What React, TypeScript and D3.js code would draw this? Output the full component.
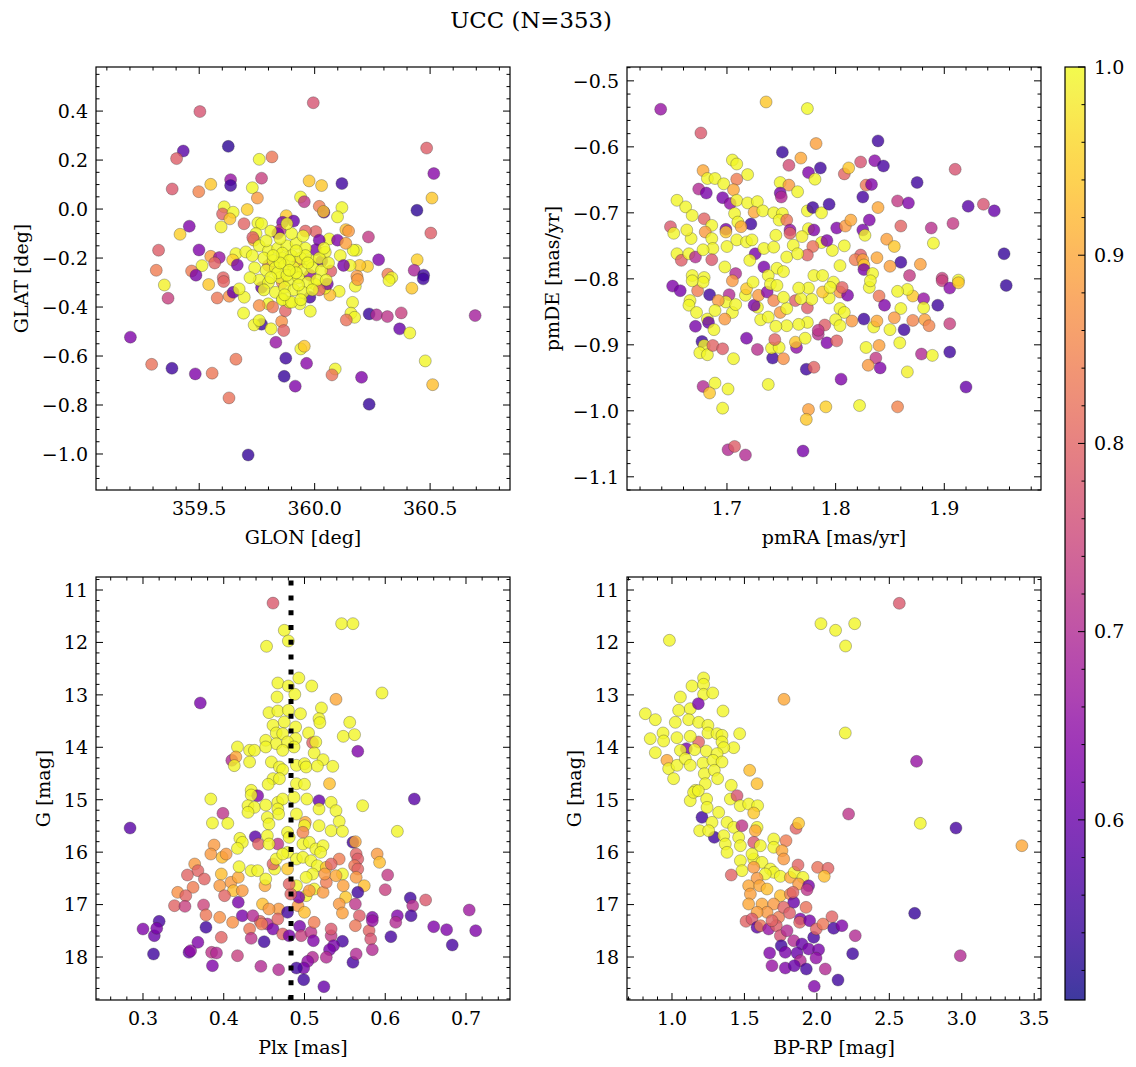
import React from 'react';
import * as d3 from 'd3';

type Pt = [number, number, number];

const TITLE = 'UCC (N=353)';
const PROB_DOMAIN: [number, number] = [0.5043, 1.0];
const PROB_TICKS = [0.6, 0.7, 0.8, 0.9, 1.0];
const PLX_LINE = 0.4833;

// GLON [deg], GLAT [deg], probability
const posPoints: Pt[] = [
[359.994,0.434,0.77],[359.503,0.398,0.77],[359.431,0.237,0.58],[359.402,0.206,0.79],[359.626,0.256,0.53],[359.760,0.203,0.998],[359.815,0.213,0.83],[360.485,0.249,0.79],[360.516,0.145,0.64],[360.508,0.045,0.94],[360.443,-0.005,0.53],[360.503,-0.098,0.79],[359.383,0.082,0.78],[359.498,0.071,0.85],[359.550,0.101,0.94],[359.636,0.120,0.66],[359.636,0.096,0.55],[359.770,0.126,0.74],[359.730,0.087,0.998],[359.752,0.045,0.88],[359.976,0.115,0.94],[360.030,0.096,0.94],[360.118,0.104,0.55],[359.939,0.049,0.995],[359.955,0.030,0.72],[360.020,0.011,0.84],[360.040,-0.013,0.58],[360.038,-0.010,0.94],[360.118,0.006,0.998],[360.099,-0.032,0.998],[359.457,-0.070,0.63],[359.417,-0.103,0.95],[359.324,-0.168,0.79],[359.314,-0.250,0.84],[359.499,-0.167,0.63],[359.608,0.009,0.995],[359.601,-0.020,0.80],[359.647,-0.013,0.998],[359.633,-0.040,0.94],[359.708,-0.002,0.95],[359.595,-0.073,0.99],[359.694,-0.060,0.80],[359.877,-0.027,0.94],[359.861,-0.054,0.62],[359.909,-0.049,0.60],[359.850,-0.087,0.72],[359.754,-0.057,0.998],[359.770,-0.060,0.998],[359.746,-0.100,0.998],[360.005,-0.092,0.80],[360.063,-0.122,0.998],[360.135,-0.084,0.93],[360.147,-0.090,0.88],[360.233,-0.114,0.73],[360.277,-0.207,0.63],[360.180,-0.168,0.998],[360.167,-0.168,0.998],[360.099,-0.127,0.63],[360.020,-0.127,0.62],[360.111,-0.190,0.995],[360.135,-0.140,0.89],[360.005,-0.166,0.62],[360.031,-0.212,0.60],[360.046,-0.176,0.995],[360.229,-0.234,0.95],[360.195,-0.230,0.94],[360.153,-0.230,0.995],[360.125,-0.230,0.62],[360.444,-0.207,0.95],[360.431,-0.250,0.69],[360.472,-0.270,0.55],[360.317,-0.266,0.84],[360.334,-0.280,0.995],[360.070,-0.253,0.79],[360.183,-0.274,0.88],[359.550,-0.193,0.89],[359.587,-0.198,0.66],[359.567,-0.220,0.80],[359.512,-0.231,0.995],[359.467,-0.253,0.84],[359.486,-0.270,0.62],[359.604,-0.280,0.80],[359.659,-0.182,0.995],[359.645,-0.208,0.95],[359.665,-0.228,0.62],[359.702,-0.175,0.995],[359.737,-0.127,0.93],[359.732,-0.116,0.79],
[359.349,-0.310,0.99],[359.365,-0.364,0.74],[359.202,-0.523,0.63],[359.294,-0.634,0.82],[359.382,-0.650,0.55],[359.483,-0.673,0.63],[359.556,-0.670,0.83],[359.659,-0.613,0.83],[359.629,-0.771,0.82],[359.541,-0.308,0.94],[359.606,-0.296,0.80],[359.578,-0.363,0.83],[359.630,-0.356,0.87],[359.647,-0.340,0.60],[359.692,-0.425,0.998],[359.770,-0.470,0.55],[359.738,-0.473,0.995],[359.760,-0.455,0.998],[359.811,-0.489,0.995],[359.857,-0.459,0.87],[359.866,-0.496,0.80],[359.873,-0.415,0.80],[359.832,-0.544,0.66],[359.875,-0.609,0.55],[359.868,-0.683,0.54],[359.916,-0.723,0.63],[359.965,-0.630,0.64],[359.940,-0.571,0.995],[359.955,-0.560,0.94],[359.712,-1.004,0.54],[359.981,-0.417,0.998],[359.979,-0.360,0.56],[359.936,-0.387,0.998],[360.106,-0.336,0.995],[360.066,-0.351,0.93],[360.044,-0.323,0.998],[360.055,-0.306,0.62],[360.164,-0.381,0.995],[360.176,-0.315,0.995],[360.186,-0.288,0.88],[360.157,-0.425,0.995],[360.173,-0.442,0.995],[360.137,-0.453,0.82],[360.236,-0.428,0.54],[360.268,-0.432,0.70],[360.315,-0.439,0.72],[360.375,-0.424,0.74],[360.368,-0.489,0.60],[360.412,-0.506,0.995],[360.695,-0.435,0.68],[360.479,-0.620,0.995],[360.511,-0.717,0.93],[360.089,-0.653,0.995],[360.075,-0.677,0.82],[360.203,-0.687,0.63],[360.236,-0.797,0.54],[360.322,-0.292,0.995],[360.421,-0.323,0.94],[360.470,-0.285,0.55],[359.799,-0.387,0.998],[359.760,-0.394,0.87],[359.818,-0.400,0.83],[359.861,-0.367,0.998],[359.890,-0.380,0.998],[359.695,-0.360,0.995],[359.673,-0.326,0.998],[360.000,-0.306,0.998],
[359.86,-0.30,0.85],[359.80,-0.23,0.82],[359.93,-0.22,0.88],[359.77,-0.32,0.60],[359.98,-0.27,0.65],[360.02,-0.33,0.80],[359.96,-0.09,0.80],[359.84,-0.10,0.62],
[359.76,-0.15,0.998],[359.80,-0.17,0.998],[359.84,-0.16,0.998],[359.88,-0.15,0.998],[359.92,-0.14,0.998],[359.96,-0.16,0.998],[359.78,-0.20,0.998],[359.82,-0.21,0.998],[359.86,-0.20,0.998],[359.90,-0.19,0.998],[359.94,-0.20,0.998],[359.98,-0.21,0.998],[360.02,-0.20,0.998],[359.74,-0.24,0.998],[359.79,-0.25,0.998],[359.83,-0.24,0.998],[359.87,-0.23,0.998],[359.91,-0.24,0.998],[359.95,-0.25,0.998],[359.99,-0.24,0.998],[360.03,-0.25,0.998],[359.76,-0.29,0.998],[359.80,-0.30,0.998],[359.85,-0.28,0.998],[359.89,-0.29,0.998],[359.93,-0.28,0.998],[359.97,-0.30,0.998],[360.01,-0.29,0.998],[359.78,-0.33,0.998],[359.83,-0.34,0.998],[359.87,-0.32,0.998],[359.91,-0.33,0.998],[359.95,-0.34,0.998],[359.99,-0.33,0.998],[359.86,-0.37,0.998],[359.90,-0.38,0.998],[359.94,-0.37,0.998],[359.85,-0.12,0.998],[359.90,-0.10,0.998],[359.95,-0.11,0.998],[359.81,-0.09,0.998],[359.88,-0.06,0.998],[359.73,-0.19,0.998],[359.72,-0.28,0.998],[360.04,-0.16,0.998],[360.06,-0.22,0.998],[360.05,-0.29,0.998],[359.84,-0.26,0.998],[359.88,-0.27,0.998],[359.92,-0.26,0.998],[359.86,-0.18,0.998],[359.96,-0.19,0.998],[359.81,-0.28,0.998],[359.89,-0.21,0.998],
[359.85,-0.22,0.998],[359.89,-0.25,0.998],[359.93,-0.31,0.998],[359.82,-0.19,0.998],[359.97,-0.22,0.998],[359.87,-0.35,0.998],[359.79,-0.13,0.998],[359.92,-0.17,0.998]
];

// pmRA [mas/yr], pmDE [mas/yr], probability
const pmPoints: Pt[] = [
[1.639,-0.543,0.66],[1.736,-0.532,0.94],[1.774,-0.542,0.998],[1.676,-0.579,0.78],[1.782,-0.595,0.89],[1.839,-0.591,0.55],[1.751,-0.608,0.54],[1.768,-0.617,0.90],[1.757,-0.628,0.76],[1.786,-0.632,0.55],[1.775,-0.639,0.63],[1.781,-0.649,0.995],[1.705,-0.620,0.995],[1.709,-0.626,0.995],[1.678,-0.636,0.90],[1.682,-0.648,0.995],[1.689,-0.648,0.995],[1.719,-0.642,0.995],[1.709,-0.649,0.84],[1.697,-0.656,0.995],[1.674,-0.664,0.70],[1.681,-0.670,0.62],[1.706,-0.665,0.90],[1.749,-0.654,0.995],[1.757,-0.658,0.88],[1.749,-0.670,0.62],[1.750,-0.676,0.70],[1.765,-0.668,0.995],[1.696,-0.677,0.62],[1.703,-0.686,0.65],[1.709,-0.681,0.99],[1.654,-0.681,0.995],[1.662,-0.691,0.995],[1.668,-0.704,0.995],[1.719,-0.685,0.995],[1.728,-0.683,0.995],[1.725,-0.699,0.90],[1.733,-0.697,0.995],[1.707,-0.701,0.995],[1.743,-0.700,0.995],[1.751,-0.701,0.995],[1.748,-0.711,0.995],[1.755,-0.711,0.83],[1.722,-0.717,0.55],[1.710,-0.714,0.995],[1.713,-0.721,0.90],[1.648,-0.721,0.78],[1.651,-0.731,0.995],[1.667,-0.739,0.995],[1.663,-0.726,0.99],[1.679,-0.709,0.80],[1.686,-0.719,0.995],[1.680,-0.729,0.88],[1.686,-0.739,0.995],[1.687,-0.754,0.995],[1.699,-0.725,0.62],[1.699,-0.729,0.94],[1.745,-0.734,0.995],[1.758,-0.726,0.65],[1.758,-0.731,0.80],[1.774,-0.697,0.995],[1.779,-0.692,0.55],[1.787,-0.700,0.995],[1.794,-0.687,0.55],[1.775,-0.724,0.995],[1.780,-0.726,0.63],[1.769,-0.736,0.99],[1.801,-0.723,0.63],[1.809,-0.720,0.88],[1.814,-0.711,0.90],[1.825,-0.676,0.56],[1.828,-0.658,0.83],[1.833,-0.657,0.63],[1.808,-0.641,0.80],[1.812,-0.632,0.94],[1.823,-0.623,0.77],[1.836,-0.621,0.64],[1.844,-0.629,0.56],[1.831,-0.711,0.63],[1.825,-0.726,0.62],[1.827,-0.734,0.995],[1.839,-0.692,0.90],[1.847,-0.740,0.89],[1.854,-0.751,0.94],[1.860,-0.720,0.80],[1.857,-0.682,0.73],[1.867,-0.685,0.63],[1.875,-0.654,0.55],[1.888,-0.723,0.71],[1.890,-0.746,0.995],[1.908,-0.716,0.73],[1.910,-0.634,0.77],[1.922,-0.690,0.58],[1.936,-0.687,0.77],[1.946,-0.697,0.60],[1.955,-0.762,0.54],[1.860,-0.775,0.55],[1.878,-0.778,0.89],[1.868,-0.795,0.73],[1.898,-0.799,0.74],[1.913,-0.802,0.995],[1.838,-0.768,0.90],[1.850,-0.781,0.89],[1.823,-0.764,0.79],[1.818,-0.771,0.84],[1.825,-0.771,0.89],[1.826,-0.779,0.94],[1.826,-0.786,0.62],[1.834,-0.792,0.995],[1.804,-0.780,0.995],[1.797,-0.757,0.995],[1.808,-0.750,0.995],[1.787,-0.745,0.995],[1.779,-0.751,0.82],[1.774,-0.764,0.80],[1.792,-0.742,0.63],[1.780,-0.795,0.995],[1.788,-0.795,0.995],[1.654,-0.762,0.995],[1.658,-0.772,0.79],[1.665,-0.762,0.995],[1.671,-0.767,0.70],[1.678,-0.756,0.995],[1.686,-0.771,0.78],[1.698,-0.782,0.995],[1.700,-0.751,0.995],[1.709,-0.741,0.995],[1.718,-0.744,0.995],[1.723,-0.741,0.995],[1.726,-0.762,0.62],[1.721,-0.772,0.995],[1.734,-0.754,0.995],[1.734,-0.782,0.62],[1.743,-0.752,0.995],[1.746,-0.784,0.995],[1.755,-0.767,0.995],[1.761,-0.749,0.995],[1.765,-0.762,0.995],[1.752,-0.789,0.995],[1.708,-0.792,0.70],[1.668,-0.795,0.995],[1.679,-0.798,0.995],[1.738,-0.795,0.995],
[1.650,-0.811,0.63],[1.657,-0.818,0.62],[1.957,-0.810,0.54],[1.666,-0.833,0.995],[1.665,-0.840,0.995],[1.672,-0.851,0.995],[1.684,-0.824,0.55],[1.673,-0.818,0.84],[1.671,-0.872,0.62],[1.682,-0.861,0.995],[1.683,-0.866,0.60],[1.688,-0.877,0.995],[1.677,-0.895,0.55],[1.679,-0.901,0.995],[1.675,-0.912,0.995],[1.682,-0.915,0.995],[1.687,-0.901,0.80],[1.696,-0.906,0.79],[1.706,-0.921,0.995],[1.678,-0.963,0.70],[1.689,-0.958,0.995],[1.684,-0.973,0.94],[1.701,-0.967,0.995],[1.696,-0.996,0.995],[1.701,-1.059,0.70],[1.707,-1.054,0.79],[1.717,-1.067,0.70],[1.770,-1.061,0.62],[1.775,-0.998,0.89],[1.773,-1.013,0.94],[1.791,-0.994,0.95],[1.822,-0.992,0.995],[1.857,-0.994,0.85],[1.738,-0.960,0.995],[1.805,-0.952,0.63],[1.773,-0.937,0.55],[1.780,-0.934,0.80],[1.742,-0.920,0.55],[1.752,-0.921,0.87],[1.741,-0.905,0.995],[1.748,-0.904,0.995],[1.718,-0.890,0.62],[1.728,-0.907,0.71],[1.744,-0.892,0.80],[1.764,-0.904,0.65],[1.763,-0.896,0.94],[1.772,-0.890,0.995],[1.784,-0.884,0.71],[1.792,-0.897,0.63],[1.801,-0.894,0.80],[1.790,-0.870,0.79],[1.784,-0.878,0.72],[1.774,-0.866,0.995],[1.766,-0.869,0.995],[1.755,-0.871,0.995],[1.745,-0.872,0.995],[1.731,-0.862,0.995],[1.738,-0.858,0.995],[1.749,-0.851,0.88],[1.755,-0.845,0.995],[1.774,-0.844,0.79],[1.763,-0.833,0.79],[1.778,-0.831,0.995],[1.768,-0.830,0.995],[1.775,-0.814,0.995],[1.766,-0.814,0.995],[1.794,-0.829,0.995],[1.788,-0.820,0.94],[1.804,-0.820,0.88],[1.811,-0.825,0.63],[1.804,-0.845,0.995],[1.808,-0.851,0.995],[1.800,-0.862,0.995],[1.804,-0.871,0.995],[1.815,-0.864,0.88],[1.826,-0.861,0.55],[1.835,-0.873,0.995],[1.838,-0.864,0.90],[1.850,-0.877,0.995],[1.840,-0.826,0.83],[1.845,-0.840,0.63],[1.831,-0.813,0.995],[1.832,-0.803,0.995],[1.860,-0.845,0.995],[1.859,-0.897,0.995],[1.854,-0.859,0.88],[1.863,-0.877,0.55],[1.871,-0.863,0.85],[1.871,-0.826,0.94],[1.866,-0.816,0.995],[1.857,-0.819,0.995],[1.881,-0.830,0.66],[1.881,-0.844,0.995],[1.882,-0.862,0.89],[1.886,-0.871,0.85],[1.894,-0.840,0.55],[1.905,-0.868,0.74],[1.898,-0.803,0.74],[1.905,-0.814,0.64],[1.913,-0.806,0.94],[1.905,-0.911,0.55],[1.879,-0.914,0.70],[1.889,-0.916,0.995],[1.866,-0.941,0.99],[1.920,-0.964,0.60],[1.840,-0.901,0.89],[1.828,-0.904,0.995],[1.837,-0.920,0.73],[1.830,-0.931,0.88],[1.841,-0.935,0.63],[1.702,-0.824,0.70],[1.699,-0.835,0.995],[1.705,-0.851,0.995],[1.708,-0.839,0.995],[1.692,-0.833,0.88],[1.689,-0.848,0.995],[1.698,-0.861,0.88],[1.717,-0.825,0.995],[1.718,-0.815,0.94],[1.728,-0.843,0.995],[1.725,-0.840,0.62],[1.729,-0.825,0.88],[1.737,-0.820,0.64],[1.743,-0.833,0.85],[1.752,-0.828,0.995],[1.740,-0.808,0.995],[1.746,-0.810,0.995],[1.724,-0.805,0.995],[1.678,-0.805,0.995],[1.668,-0.803,0.995],[1.705,-0.803,0.88],[1.798,-0.805,0.995],[1.806,-0.813,0.80],[1.795,-0.813,0.995]
];

// Plx [mas], G [mag], probability
const plxPoints: Pt[] = [
[0.461,11.25,0.78],[0.546,11.642,0.995],[0.560,11.642,0.995],[0.475,11.769,0.995],[0.480,11.973,0.995],[0.453,12.074,0.995],[0.493,12.678,0.995],[0.467,12.774,0.995],[0.480,12.831,0.995],[0.509,12.831,0.995],[0.466,13.041,0.995],[0.488,12.990,0.995],[0.596,12.964,0.995],[0.371,13.155,0.62],[0.539,13.085,0.90],[0.521,13.250,0.995],[0.456,13.339,0.995],[0.467,13.308,0.995],[0.480,13.295,0.995],[0.495,13.359,0.995],[0.518,13.454,0.995],[0.519,13.530,0.995],[0.556,13.524,0.995],[0.548,13.791,0.995],[0.562,13.759,0.995],[0.461,13.581,0.995],[0.475,13.517,0.995],[0.489,13.613,0.995],[0.465,13.727,0.995],[0.473,13.740,0.995],[0.505,13.727,0.995],[0.489,13.835,0.995],[0.452,13.867,0.995],[0.465,13.931,0.995],[0.479,13.899,0.995],[0.510,13.912,0.80],[0.514,13.899,0.995],[0.566,14.077,0.63],[0.417,13.994,0.995],[0.410,14.249,0.70],[0.415,14.185,0.90],[0.413,14.350,0.995],[0.432,14.058,0.995],[0.438,14.058,0.995],[0.432,14.280,0.995],[0.452,13.994,0.995],[0.473,14.058,0.995],[0.487,13.994,0.995],[0.512,14.109,0.995],[0.523,14.236,0.995],[0.535,14.363,0.995],[0.459,14.280,0.995],[0.469,14.376,0.995],[0.473,14.427,0.995],[0.490,14.344,0.995],[0.500,14.312,0.995],[0.502,14.376,0.995],[0.516,14.357,0.995],[0.461,14.598,0.995],[0.469,14.598,0.995],[0.455,14.706,0.995],[0.490,14.694,0.995],[0.500,14.706,0.995],[0.531,14.694,0.93],[0.434,14.821,0.995],
[0.384,14.987,0.995],[0.442,14.923,0.63],[0.434,14.910,0.995],[0.430,15.114,0.995],[0.438,15.146,0.995],[0.452,15.101,0.995],[0.467,15.050,0.995],[0.473,14.987,0.995],[0.487,14.955,0.995],[0.503,14.987,0.995],[0.518,15.018,0.60],[0.533,15.050,0.995],[0.572,15.114,0.995],[0.636,14.987,0.58],[0.284,15.540,0.58],[0.399,15.260,0.72],[0.386,15.444,0.995],[0.405,15.451,0.995],[0.430,15.241,0.995],[0.467,15.177,0.995],[0.468,15.273,0.995],[0.454,15.337,0.995],[0.456,15.463,0.995],[0.490,15.273,0.995],[0.501,15.432,0.90],[0.500,15.495,0.995],[0.518,15.177,0.995],[0.518,15.495,0.995],[0.533,15.591,0.995],[0.539,15.209,0.995],[0.543,15.413,0.995],[0.547,15.603,0.995],[0.615,15.603,0.995],[0.439,15.705,0.58],[0.443,15.845,0.80],[0.420,15.737,0.995],[0.423,15.813,0.995],[0.417,15.928,0.995],[0.454,15.686,0.995],[0.467,15.845,0.72],[0.456,15.845,0.995],[0.479,15.622,0.995],[0.481,15.718,0.995],[0.498,15.622,0.85],[0.498,15.845,0.995],[0.506,15.813,0.995],[0.514,15.940,0.995],[0.523,15.877,0.995],[0.520,16.004,0.995],[0.560,15.813,0.55],[0.563,15.800,0.90],[0.388,15.864,0.88],[0.384,16.036,0.88],[0.398,16.099,0.93],[0.403,16.036,0.88],[0.364,16.226,0.88],[0.368,16.353,0.80],[0.355,16.436,0.80],[0.376,16.513,0.80],[0.362,16.671,0.84],[0.343,16.767,0.87],[0.353,16.830,0.80],[0.339,17.021,0.80],[0.352,17.034,0.74],[0.375,17.008,0.75],[0.378,17.199,0.83],[0.395,17.244,0.87],[0.411,17.339,0.87],[0.397,17.625,0.80],[0.417,17.975,0.74],[0.385,17.911,0.72],[0.391,17.924,0.70],[0.386,18.165,0.63],[0.357,17.911,0.60],[0.359,17.879,0.65],[0.368,17.720,0.63],[0.378,17.434,0.55],[0.313,17.943,0.55],[0.314,17.593,0.60],[0.300,17.466,0.63],[0.320,17.320,0.56],[0.317,17.453,0.62],[0.397,16.417,0.93],[0.395,16.640,0.88],[0.409,16.576,0.88],[0.412,16.735,0.93],[0.401,16.830,0.80],[0.418,16.481,0.90],[0.419,16.277,0.995],[0.434,16.353,0.995],[0.442,16.353,0.995],[0.418,16.957,0.62],[0.423,17.212,0.62],[0.432,17.466,0.83],[0.434,17.644,0.72],[0.445,17.320,0.80],[0.448,16.989,0.93],[0.451,16.640,0.90],[0.452,16.513,0.995],[0.463,16.322,0.995],[0.461,16.226,0.80],[0.465,16.131,0.995],[0.479,16.004,0.995],[0.473,16.036,0.995],[0.479,16.322,0.94],[0.490,16.131,0.995],[0.498,16.099,0.995],[0.508,16.163,0.995],[0.516,16.258,0.995],[0.510,16.417,0.995],[0.502,16.481,0.995],[0.490,16.640,0.995],[0.512,16.703,0.995],[0.502,16.830,0.995],[0.523,16.767,0.88],[0.527,16.576,0.84],[0.527,16.290,0.94],[0.543,16.131,0.84],[0.547,16.417,0.995],[0.548,16.640,0.89],[0.551,16.862,0.94],[0.543,16.989,0.88],[0.547,17.161,0.89],[0.564,16.036,0.80],[0.566,16.131,0.79],[0.562,16.258,0.83],[0.566,16.322,0.80],[0.564,16.481,0.88],[0.574,16.640,0.93],[0.566,16.767,0.55],[0.563,16.989,0.72],[0.568,17.212,0.79],[0.563,17.402,0.83],[0.580,17.498,0.80],[0.582,17.657,0.77],[0.584,17.244,0.63],[0.584,17.307,0.66],[0.584,17.860,0.70],[0.590,16.036,0.88],[0.593,16.195,0.93],[0.603,16.436,0.73],[0.600,16.716,0.74],[0.615,17.212,0.63],[0.613,17.339,0.70],[0.607,17.612,0.56],[0.631,16.875,0.55],[0.634,17.021,0.71],[0.632,17.212,0.56],[0.650,16.913,0.78],[0.660,17.422,0.63],[0.676,17.479,0.63],[0.683,17.771,0.56],[0.704,17.104,0.67],[0.712,17.498,0.63],[0.547,17.701,0.56],[0.560,18.102,0.56],[0.564,17.943,0.70],[0.533,17.593,0.73],[0.536,17.784,0.62],[0.531,17.860,0.62],[0.527,18.006,0.70],[0.510,18.006,0.70],[0.504,18.083,0.65],[0.499,18.210,0.62],[0.490,18.210,0.55],[0.499,18.432,0.55],[0.524,18.566,0.60],[0.468,18.242,0.70],[0.446,18.178,0.70],[0.450,17.708,0.55],[0.454,17.371,0.70],[0.461,17.466,0.62],[0.473,17.561,0.80],[0.481,17.593,0.62],[0.494,17.415,0.62],[0.496,17.593,0.74],[0.508,17.530,0.72],[0.511,17.689,0.63],[0.512,17.339,0.84],[0.468,17.085,0.88],[0.479,17.148,0.55],[0.456,17.085,0.88],[0.467,17.275,0.80],[0.447,17.371,0.84],[0.492,17.021,0.88],[0.500,17.148,0.93],[0.493,16.862,0.62],[0.483,16.799,0.80],[0.481,16.608,0.80],[0.506,16.735,0.88],[0.533,16.226,0.80],[0.525,16.417,0.88],[0.539,16.449,0.90],[0.423,16.735,0.88],[0.436,17.212,0.70],[0.533,17.466,0.78]
];

// BP-RP [mag], G [mag], probability
const cmdPoints: Pt[] = [
[1.184,13.899,0.80],[1.099,14.026,0.62],
[2.569,11.254,0.78],[2.028,11.642,0.995],[2.129,11.769,0.995],[2.261,11.642,0.995],[2.198,12.068,0.995],[0.982,11.960,0.995],[1.773,13.085,0.90],[2.196,13.727,0.995],[2.688,14.268,0.66],[1.218,12.678,0.995],[1.138,12.831,0.995],[1.218,12.799,0.995],[1.218,12.990,0.995],[1.281,12.964,0.995],[1.058,13.041,0.995],[1.126,13.263,0.995],[1.182,13.168,0.62],[1.046,13.295,0.995],[1.352,13.308,0.995],[0.816,13.359,0.995],[0.885,13.473,0.995],[1.023,13.524,0.995],[1.115,13.473,0.995],[1.184,13.524,0.995],[1.248,13.581,0.995],[1.248,13.727,0.995],[0.938,13.727,0.995],[0.850,13.835,0.995],[0.942,13.880,0.995],[1.034,13.816,0.995],[1.126,13.791,0.995],[1.311,13.740,0.995],[1.345,13.772,0.995],[1.467,13.740,0.995],[1.345,13.899,0.995],[1.426,14.007,0.995],[1.357,14.007,0.995],[0.885,14.102,0.995],[1.058,14.058,0.995],[1.156,14.045,0.995],[1.237,14.071,0.995],[1.311,14.121,0.995],[0.965,14.249,0.90],[0.977,14.408,0.995],[1.035,14.344,0.995],[1.092,14.217,0.995],[1.126,14.344,0.995],[1.214,14.300,0.995],[1.283,14.249,0.995],[1.345,14.280,0.995],[1.011,14.598,0.995],[1.223,14.503,0.995],[1.292,14.439,0.995],[1.315,14.598,0.995],[1.230,14.694,0.995],[1.409,14.725,0.995],[1.536,14.439,0.93],[1.587,14.694,0.93],[1.161,14.821,0.995],
[1.126,15.018,0.995],[1.207,15.336,0.55],[1.149,14.860,0.995],[1.182,14.828,0.995],[1.239,14.987,0.995],[1.242,15.146,0.995],[1.403,14.987,0.995],[1.449,14.923,0.77],[1.471,15.114,0.995],[1.529,15.082,0.995],[1.591,15.114,0.995],[1.564,15.254,0.94],[1.322,15.241,0.995],[1.276,15.432,0.995],[1.191,15.591,0.995],[1.292,15.718,0.55],[1.253,15.591,0.995],[1.380,15.432,0.995],[1.426,15.527,0.995],[1.483,15.495,0.72],[1.587,15.527,0.995],[1.575,15.591,0.90],[1.856,15.546,0.80],[1.874,15.451,0.94],[2.219,15.273,0.72],[2.714,15.451,0.995],[2.960,15.540,0.56],[3.415,15.877,0.90],[1.357,15.686,0.995],[1.368,15.845,0.995],[1.460,15.718,0.995],[1.472,15.877,0.995],[1.380,16.004,0.995],[1.564,15.813,0.78],[1.610,15.877,0.995],[1.702,15.749,0.995],[1.702,15.908,0.995],[1.787,15.781,0.84],[1.759,15.972,0.90],[1.771,16.131,0.88],[1.472,16.163,0.995],[1.564,16.131,0.995],[1.552,16.036,0.995],[1.621,16.195,0.995],[1.483,16.353,0.995],[1.564,16.290,0.88],[1.679,16.322,0.995],[1.702,16.385,0.995],[1.644,16.417,0.995],[1.748,16.462,0.995],[1.817,16.481,0.90],[1.844,16.385,0.995],[1.870,16.245,0.80],[1.904,16.481,0.995],[1.874,16.608,0.88],[1.409,16.436,0.80],[1.587,16.500,0.88],[1.943,16.640,0.62],[1.932,16.716,0.72],[2.005,16.290,0.82],[2.077,16.309,0.80],[2.051,16.462,0.93],[1.529,16.640,0.90],[1.605,16.640,0.90],[1.656,16.703,0.93],[1.748,16.830,0.93],[1.817,16.799,0.85],[1.840,16.957,0.60],[1.835,16.767,0.80],[1.541,16.799,0.89],[1.529,16.989,0.90],[1.621,16.989,0.90],[1.702,16.989,0.88],[1.656,17.148,0.88],[1.587,17.148,0.89],[1.736,17.244,0.84],[1.771,17.053,0.80],[1.812,17.161,0.79],[1.925,17.053,0.82],[1.886,17.275,0.62],[1.881,17.339,0.80],[1.950,17.307,0.62],[1.511,17.320,0.80],[1.552,17.275,0.78],[1.587,17.434,0.58],[1.610,17.402,0.83],[1.667,17.466,0.66],[1.720,17.402,0.79],[1.748,17.593,0.77],[1.794,17.498,0.70],[1.840,17.689,0.70],[1.897,17.752,0.60],[1.978,17.625,0.56],[1.996,17.466,0.80],[2.042,17.371,0.83],[2.104,17.231,0.80],[2.116,17.453,0.56],[2.173,17.402,0.63],[2.265,17.593,0.70],[2.247,17.936,0.55],[1.754,17.784,0.55],[1.674,17.924,0.63],[1.782,17.911,0.62],[1.863,17.924,0.60],[1.943,17.847,0.62],[2.012,17.860,0.62],[1.994,18.019,0.65],[1.886,18.070,0.70],[1.690,18.165,0.66],[1.782,18.210,0.63],[1.844,18.165,0.60],[1.927,18.229,0.56],[2.058,18.229,0.70],[2.146,18.439,0.55],[1.982,18.560,0.63],[2.675,17.167,0.54],[2.990,17.975,0.70],[1.690,17.307,0.80]
];

const GLON_TICKS = [359.5, 360.0, 360.5];
const GLAT_TICKS = [-1.0, -0.8, -0.6, -0.4, -0.2, 0.0, 0.2, 0.4];
const PMRA_TICKS = [1.7, 1.8, 1.9];
const PMDE_TICKS = [-1.1, -1.0, -0.9, -0.8, -0.7, -0.6, -0.5];
const PLX_TICKS = [0.3, 0.4, 0.5, 0.6, 0.7];
const G_TICKS = [11, 12, 13, 14, 15, 16, 17, 18];
const BPRP_TICKS = [1.0, 1.5, 2.0, 2.5, 3.0, 3.5];

const FONT = '"DejaVu Serif", serif';
const FS = 19;
const PW = 414;
const PH = 423;

const cmap = d3.scaleSequential(d3.interpolatePlasma).domain(PROB_DOMAIN).clamp(true);

const fmt = (v: number, dec: number) => {
  const s = (Math.abs(v) < 1e-9 ? 0 : v).toFixed(dec);
  return s.replace('-', '\u2212');
};

const charW = (s: string) => {
  let w = 0;
  for (const c of s) {
    if (c === '.') w += 0.318;
    else if (c === '\u2212') w += 0.838;
    else w += 0.636;
  }
  return w * FS;
};

function minorTicks(dom: number[], step: number, majors: number[]) {
  const lo = Math.min(dom[0], dom[1]);
  const hi = Math.max(dom[0], dom[1]);
  const out: number[] = [];
  for (let i = Math.ceil(lo / step - 1e-9); i <= Math.floor(hi / step + 1e-9); i++) {
    const v = i * step;
    if (!majors.some((m) => Math.abs(m - v) < step / 10)) out.push(v);
  }
  return out;
}

interface Spec {
  key: string; x0: number; y0: number;
  xDom: [number, number]; yDom: [number, number];
  xMaj: number[]; yMaj: number[]; xMin: number; yMin: number;
  xDec: number; yDec: number; xLabel: string; yLabel: string;
  data: Pt[]; vline?: number;
}

const PANELS: Spec[] = [
  { key: 'pos', x0: 96, y0: 67, xDom: [359.053, 360.846], yDom: [-1.147, 0.58], xMaj: GLON_TICKS, yMaj: GLAT_TICKS, xMin: 0.1, yMin: 0.05, xDec: 1, yDec: 1, xLabel: 'GLON [deg]', yLabel: 'GLAT [deg]', data: posPoints },
  { key: 'pm', x0: 627, y0: 67, xDom: [1.608, 1.989], yDom: [-1.12, -0.479], xMaj: PMRA_TICKS, yMaj: PMDE_TICKS, xMin: 0.02, yMin: 0.02, xDec: 1, yDec: 1, xLabel: 'pmRA [mas/yr]', yLabel: 'pmDE [mas/yr]', data: pmPoints },
  { key: 'plx', x0: 96, y0: 577, xDom: [0.2418, 0.7545], yDom: [18.82, 10.752], xMaj: PLX_TICKS, yMaj: G_TICKS, xMin: 0.02, yMin: 0.2, xDec: 1, yDec: 0, xLabel: 'Plx [mas]', yLabel: 'G [mag]', data: plxPoints, vline: PLX_LINE },
  { key: 'cmd', x0: 627, y0: 577, xDom: [0.6894, 3.547], yDom: [18.82, 10.752], xMaj: BPRP_TICKS, yMaj: G_TICKS, xMin: 0.1, yMin: 0.2, xDec: 1, yDec: 0, xLabel: 'BP-RP [mag]', yLabel: 'G [mag]', data: cmdPoints },
];

const MAJ = 7;
const MIN = 3.5;

function Panel({ s }: { s: Spec }) {
  const x = d3.scaleLinear().domain(s.xDom).range([0, PW]);
  const y = d3.scaleLinear().domain(s.yDom).range([PH, 0]);
  const xMinor = minorTicks(s.xDom, s.xMin, s.xMaj);
  const yMinor = minorTicks(s.yDom, s.yMin, s.yMaj);
  const yLabels = s.yMaj.map((v) => fmt(v, s.yDec));
  const maxW = Math.max(...yLabels.map(charW));
  const ylx = -(8 + maxW + 14);
  return (
    <g transform={`translate(${s.x0},${s.y0})`}>
      <defs>
        <clipPath id={`clip-${s.key}`}>
          <rect x={0} y={0} width={PW} height={PH} />
        </clipPath>
      </defs>
      <g clipPath={`url(#clip-${s.key})`}>
        {s.data.map((d, i) => (
          <circle key={i} cx={x(d[0])} cy={y(d[1])} r={6} fill={cmap(d[2])} fillOpacity={0.8}
            stroke="#333" strokeOpacity={0.55} strokeWidth={0.6} />
        ))}
        {s.vline != null && (
          <line x1={x(s.vline)} x2={x(s.vline)} y1={PH} y2={0} stroke="#000" strokeWidth={5} strokeDasharray="5 9.8" />
        )}
      </g>
      <g stroke="#000" strokeWidth={1}>
        {s.xMaj.map((v) => (
          <g key={`xM${v}`}>
            <line x1={x(v)} x2={x(v)} y1={PH} y2={PH - MAJ} />
            <line x1={x(v)} x2={x(v)} y1={0} y2={MAJ} />
          </g>
        ))}
        {xMinor.map((v) => (
          <g key={`xm${v}`}>
            <line x1={x(v)} x2={x(v)} y1={PH} y2={PH - MIN} />
            <line x1={x(v)} x2={x(v)} y1={0} y2={MIN} />
          </g>
        ))}
        {s.yMaj.map((v) => (
          <g key={`yM${v}`}>
            <line x1={0} x2={MAJ} y1={y(v)} y2={y(v)} />
            <line x1={PW} x2={PW - MAJ} y1={y(v)} y2={y(v)} />
          </g>
        ))}
        {yMinor.map((v) => (
          <g key={`ym${v}`}>
            <line x1={0} x2={MIN} y1={y(v)} y2={y(v)} />
            <line x1={PW} x2={PW - MIN} y1={y(v)} y2={y(v)} />
          </g>
        ))}
      </g>
      <rect x={0} y={0} width={PW} height={PH} fill="none" stroke="#000" strokeWidth={1.2} />
      <g fontFamily={FONT} fontSize={FS} fill="#000">
        {s.xMaj.map((v) => (
          <text key={`xl${v}`} x={x(v)} y={PH + 25} textAnchor="middle">{fmt(v, s.xDec)}</text>
        ))}
        {s.yMaj.map((v, i) => (
          <text key={`yl${v}`} x={-8} y={y(v)} dy="0.36em" textAnchor="end">{yLabels[i]}</text>
        ))}
        <text x={PW / 2} y={PH + 54} textAnchor="middle">{s.xLabel}</text>
        <text transform={`translate(${ylx},${PH / 2}) rotate(-90)`} textAnchor="middle">{s.yLabel}</text>
      </g>
    </g>
  );
}

function ColorBar() {
  const x0 = 1065, w = 20, top = 67, bottom = 1000;
  const sc = d3.scaleLinear().domain([PROB_DOMAIN[0], PROB_DOMAIN[1]]).range([bottom, top]);
  const stops = d3.range(0, 41).map((i) => i / 40);
  const minor = minorTicks(PROB_DOMAIN, 0.02, PROB_TICKS);
  return (
    <g>
      <defs>
        <linearGradient id="cbar" x1="0" y1="1" x2="0" y2="0">
          {stops.map((t) => (
            <stop key={t} offset={t} stopColor={cmap(PROB_DOMAIN[0] + t * (PROB_DOMAIN[1] - PROB_DOMAIN[0]))} stopOpacity={0.8} />
          ))}
        </linearGradient>
      </defs>
      <rect x={x0} y={top} width={w} height={bottom - top} fill="url(#cbar)" />
      <g stroke="#000" strokeWidth={1}>
        {PROB_TICKS.map((v) => (
          <line key={`c${v}`} x1={x0 + w - MAJ} x2={x0 + w} y1={sc(v)} y2={sc(v)} />
        ))}
        {minor.map((v) => (
          <line key={`cm${v}`} x1={x0 + w - MIN} x2={x0 + w} y1={sc(v)} y2={sc(v)} />
        ))}
      </g>
      <rect x={x0} y={top} width={w} height={bottom - top} fill="none" stroke="#000" strokeWidth={1.2} />
      <g fontFamily={FONT} fontSize={FS} fill="#000">
        {PROB_TICKS.map((v) => (
          <text key={`ct${v}`} x={x0 + w + 9} y={sc(v)} dy="0.36em">{fmt(v, 1)}</text>
        ))}
      </g>
    </g>
  );
}

export default function App() {
  return (
    <div style={{ position: 'absolute', left: 0, top: 0 }}>
      <svg width={1136} height={1067} style={{ display: 'block', background: '#fff' }}>
        <rect x={0} y={0} width={1136} height={1067} fill="#fff" />
        <text x={531} y={28} textAnchor="middle" fontFamily={FONT} fontSize={22.8} fill="#000">{TITLE}</text>
        {PANELS.map((s) => <Panel key={s.key} s={s} />)}
        <ColorBar />
      </svg>
    </div>
  );
}
